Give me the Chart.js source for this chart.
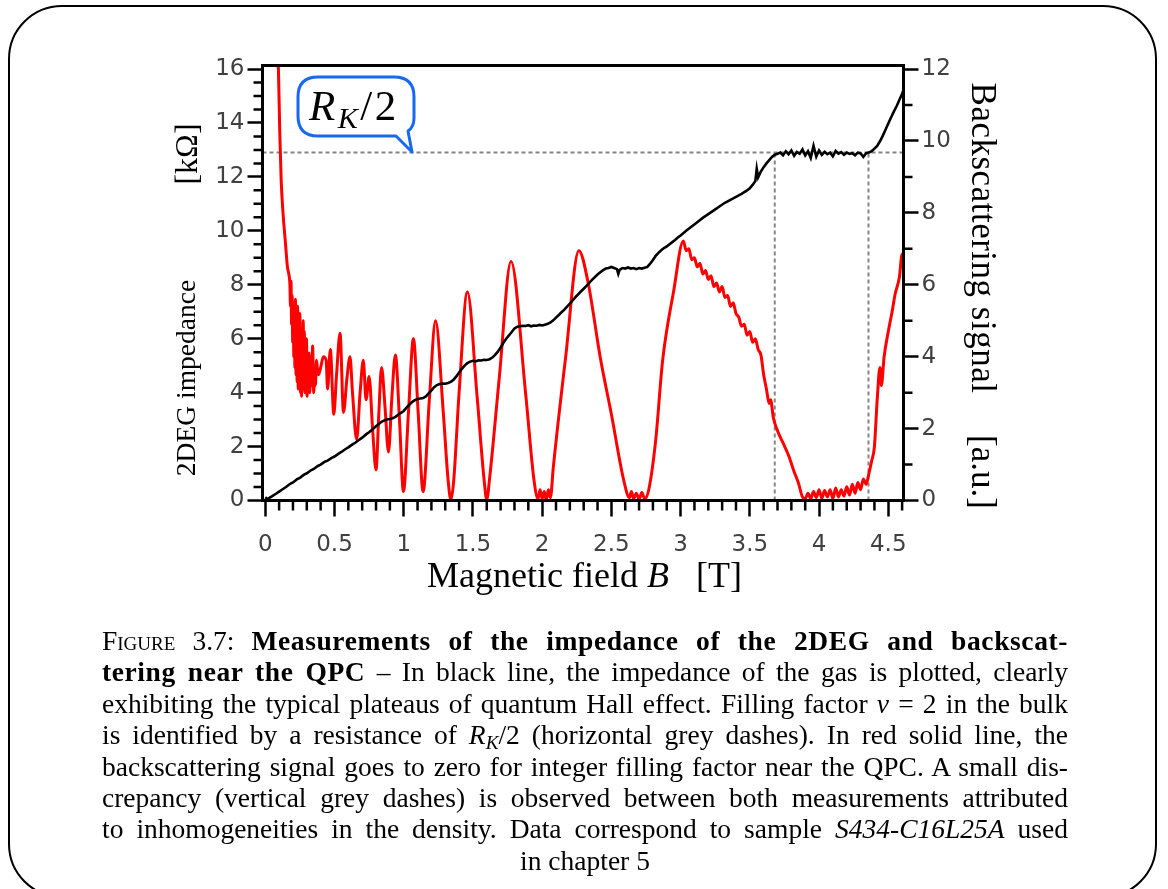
<!DOCTYPE html>
<html lang="en">
<head>
<meta charset="UTF-8" />
<title>2DEG impedance and backscattering</title>
<script src="https://cdn.jsdelivr.net/npm/chart.js"></script>
<style>
  html, body { margin: 0; padding: 0; background: #fff; }
  body { width: 1168px; height: 889px; position: relative; overflow: hidden; font-family: "Liberation Serif", serif; color: #000; }
  .frame { position: absolute; left: 8px; top: 5px; width: 1149px; height: 893px; border: 2px solid #000; border-radius: 54px; box-sizing: border-box; }
  #chart { position: absolute; left: 0; top: 0; }
  .axis-title { position: absolute; white-space: nowrap; line-height: 1; }
  .bubble { position: absolute; left: 0; top: 0; }
  .bubble-text { position: absolute; left: 309px; top: 84px; font-size: 43px; line-height: 43px; white-space: nowrap; letter-spacing: 2.5px; }
  .bubble-text sub, .caption sub { font-size: 0.7em; vertical-align: -0.25em; line-height: 0; }
  .caption { position: absolute; left: 102px; top: 625px; width: 966px; font-size: 27.5px; line-height: 31.4px; }
  .caption .ln { text-align: justify; text-align-last: justify; height: 31.4px; }
  .caption .ln.last { text-align: center; text-align-last: center; }
  .caption b { letter-spacing: 0.6px; }
  .sc { font-variant: small-caps; }
</style>
</head>
<body>
<div class="frame"></div>
<canvas id="chart" width="1168" height="889"></canvas>

<div class="axis-title" style="left:584.5px; top:557px; font-size:36px; transform:translateX(-50%);">Magnetic field <i>B</i><span style="display:inline-block;width:27px"></span>[T]</div>
<div class="axis-title" style="left:186px; top:378px; font-size:27.5px; transform:translate(-50%,-50%) rotate(-90deg);">2DEG impedance</div>
<div class="axis-title" style="left:186px; top:154px; font-size:32px; transform:translate(-50%,-50%) rotate(-90deg);">[kΩ]</div>
<div class="axis-title" style="left:983px; top:238px; font-size:35px; letter-spacing:0.5px; transform:translate(-50%,-50%) rotate(90deg);">Backscattering signal</div>
<div class="axis-title" style="left:983px; top:472px; font-size:35px; transform:translate(-50%,-50%) rotate(90deg);">[a.u.]</div>

<svg class="bubble" width="1168" height="200">
  <path d="M318 77 H394 Q414 77 414 97 V118 Q414 127 408 131 L412 152 L396 136 H318 Q298 136 298 116 V97 Q298 77 318 77 Z"
        fill="#fff" stroke="#1769f0" stroke-width="3" stroke-linejoin="round" />
</svg>
<div class="bubble-text"><i>R</i><sub><i>K</i></sub>/2</div>

<div class="caption">
  <div class="ln"><span class="sc">Figure</span> 3.7: <b>Measurements of the impedance of the 2DEG and backscat-</b></div>
  <div class="ln"><b>tering near the QPC</b> – In black line, the impedance of the gas is plotted, clearly</div>
  <div class="ln">exhibiting the typical plateaus of quantum Hall effect. Filling factor <i>ν</i> = 2 in the bulk</div>
  <div class="ln">is identified by a resistance of <i>R</i><sub><i>K</i></sub>/2 (horizontal grey dashes). In red solid line, the</div>
  <div class="ln">backscattering signal goes to zero for integer filling factor near the QPC. A small dis-</div>
  <div class="ln">crepancy (vertical grey dashes) is observed between both measurements attributed</div>
  <div class="ln">to inhomogeneities in the density. Data correspond to sample <i>S434-C16L25A</i> used</div>
  <div class="ln last">in chapter 5</div>
</div>

<script>
// tick values and labels
const xTicks = [0, 0.5, 1, 1.5, 2, 2.5, 3, 3.5, 4, 4.5];
const xTickLabels = ['0', '0.5', '1', '1.5', '2', '2.5', '3', '3.5', '4', '4.5'];
const leftTicks = [0, 2, 4, 6, 8, 10, 12, 14, 16];
const leftTickLabels = ['0', '2', '4', '6', '8', '10', '12', '14', '16'];
const rightTicks = [0, 2, 4, 6, 8, 10, 12];
const rightTickLabels = ['0', '2', '4', '6', '8', '10', '12'];

// R_K/2 level (kOhm) and the two field values of the vertical dashes (T)
const rkHalf = 12.9;
const plateauBulk = 3.68;
const plateauQpc = 4.357;

// black line: 2DEG impedance (kOhm) vs B (T)
const bImp = [0.00, 0.01, 0.02, 0.03, 0.05, 0.08, 0.10, 0.12, 0.15, 0.18, 0.20, 0.23, 0.25, 0.28, 0.30, 0.33, 0.35, 0.38, 0.40, 0.43,
  0.45, 0.48, 0.50, 0.53, 0.55, 0.58, 0.60, 0.63, 0.65, 0.68, 0.70, 0.73, 0.75, 0.78, 0.80, 0.82, 0.84, 0.86, 0.88, 0.90,
  0.92, 0.94, 0.96, 0.98, 1.00, 1.02, 1.04, 1.06, 1.08, 1.10, 1.12, 1.14, 1.16, 1.18, 1.20, 1.22, 1.24, 1.26, 1.28, 1.30,
  1.32, 1.34, 1.36, 1.38, 1.40, 1.42, 1.44, 1.46, 1.48, 1.50, 1.52, 1.54, 1.56, 1.58, 1.60, 1.62, 1.64, 1.66, 1.68, 1.70,
  1.72, 1.74, 1.76, 1.78, 1.80, 1.82, 1.84, 1.86, 1.88, 1.90, 1.92, 1.94, 1.96, 1.98, 2.00, 2.02, 2.04, 2.06, 2.08, 2.10,
  2.12, 2.14, 2.16, 2.20, 2.24, 2.28, 2.32, 2.36, 2.40, 2.42, 2.44, 2.46, 2.48, 2.50, 2.52, 2.54, 2.55, 2.56, 2.58, 2.60,
  2.62, 2.64, 2.66, 2.68, 2.70, 2.72, 2.74, 2.76, 2.78, 2.80, 2.82, 2.84, 2.86, 2.88, 2.90, 2.92, 2.94, 2.96, 2.98, 3.00,
  3.04, 3.08, 3.12, 3.16, 3.20, 3.24, 3.28, 3.32, 3.36, 3.40, 3.44, 3.48, 3.50, 3.52, 3.54, 3.55, 3.56, 3.58, 3.60, 3.62,
  3.64, 3.66, 3.68, 3.70, 3.72, 3.74, 3.76, 3.78, 3.80, 3.82, 3.84, 3.86, 3.88, 3.90, 3.92, 3.94, 3.96, 3.98, 4.00, 4.02,
  4.04, 4.06, 4.08, 4.10, 4.12, 4.14, 4.16, 4.18, 4.20, 4.22, 4.24, 4.26, 4.28, 4.30, 4.32, 4.34, 4.36, 4.38, 4.40, 4.42,
  4.44, 4.46, 4.48, 4.50, 4.52, 4.54, 4.56, 4.58, 4.60, 4.61];
const impedance = [0.12, 0.08, 0.05, 0.10, 0.16, 0.26, 0.33, 0.40, 0.50, 0.62, 0.67, 0.79, 0.84, 0.96, 1.01, 1.12, 1.17, 1.28, 1.33, 1.44,
  1.48, 1.58, 1.63, 1.74, 1.80, 1.91, 1.97, 2.08, 2.14, 2.26, 2.33, 2.46, 2.53, 2.66, 2.75, 2.84, 2.92, 2.97, 3.00, 3.02,
  3.05, 3.10, 3.18, 3.25, 3.32, 3.44, 3.55, 3.65, 3.72, 3.76, 3.78, 3.80, 3.86, 3.97, 4.08, 4.20, 4.28, 4.32, 4.34, 4.33,
  4.36, 4.40, 4.48, 4.60, 4.75, 4.88, 5.00, 5.10, 5.15, 5.18, 5.16, 5.20, 5.19, 5.22, 5.21, 5.24, 5.30, 5.40, 5.52, 5.67,
  5.85, 6.00, 6.12, 6.25, 6.38, 6.44, 6.46, 6.48, 6.47, 6.50, 6.46, 6.49, 6.48, 6.51, 6.49, 6.52, 6.55, 6.60, 6.68, 6.78,
  6.88, 6.98, 7.08, 7.30, 7.54, 7.75, 7.96, 8.18, 8.38, 8.46, 8.54, 8.60, 8.62, 8.66, 8.62, 8.58, 8.40, 8.55, 8.62, 8.60,
  8.64, 8.60, 8.62, 8.58, 8.62, 8.60, 8.63, 8.66, 8.78, 8.92, 9.07, 9.18, 9.28, 9.36, 9.42, 9.50, 9.58, 9.66, 9.75, 9.83,
  10.00, 10.16, 10.32, 10.48, 10.62, 10.76, 10.90, 11.04, 11.15, 11.26, 11.37, 11.50, 11.58, 11.70, 11.85, 12.30, 11.98, 12.20, 12.36, 12.50,
  12.62, 12.74, 12.82, 12.86, 12.90, 12.80, 12.95, 12.84, 12.98, 12.78, 12.92, 12.86, 13.02, 12.80, 12.95, 12.70, 13.15, 12.75, 12.98, 12.82,
  12.93, 12.84, 12.90, 12.76, 12.96, 12.86, 12.92, 12.82, 12.90, 12.85, 12.88, 12.80, 12.90, 12.87, 12.74, 12.88, 12.90, 12.95, 13.05, 13.15,
  13.32, 13.52, 13.75, 13.98, 14.20, 14.42, 14.62, 14.85, 15.08, 15.22];

// red line: backscattering signal (a.u.) vs B (T)
const bBack = [0.080, 0.095, 0.105, 0.115, 0.130, 0.145, 0.160, 0.170, 0.178, 0.182, 0.186, 0.190, 0.194, 0.198, 0.202, 0.206, 0.210, 0.214, 0.218, 0.222,
  0.226, 0.230, 0.234, 0.238, 0.242, 0.246, 0.250, 0.254, 0.258, 0.262, 0.266, 0.270, 0.274, 0.278, 0.282, 0.286, 0.290, 0.294, 0.298, 0.302,
  0.306, 0.310, 0.316, 0.322, 0.330, 0.336, 0.342, 0.350, 0.356, 0.362, 0.370, 0.378, 0.385, 0.400, 0.420, 0.440, 0.450, 0.470, 0.495, 0.515,
  0.540, 0.565, 0.590, 0.612, 0.630, 0.660, 0.685, 0.708, 0.728, 0.750, 0.775, 0.800, 0.820, 0.840, 0.865, 0.890, 0.915, 0.940, 0.970, 0.998,
  1.035, 1.070, 1.105, 1.140, 1.185, 1.230, 1.285, 1.320, 1.340, 1.360, 1.400, 1.460, 1.530, 1.580, 1.600, 1.620, 1.690, 1.775, 1.880, 1.940,
  1.970, 1.985, 2.000, 2.015, 2.030, 2.045, 2.060, 2.080, 2.170, 2.265, 2.330, 2.420, 2.500, 2.590, 2.630, 2.645, 2.660, 2.680, 2.700, 2.720,
  2.740, 2.770, 2.820, 2.870, 2.950, 3.020, 3.040, 3.060, 3.080, 3.100, 3.120, 3.140, 3.160, 3.180, 3.200, 3.220, 3.240, 3.260, 3.280, 3.300,
  3.320, 3.340, 3.360, 3.380, 3.400, 3.420, 3.440, 3.460, 3.480, 3.500, 3.520, 3.540, 3.560, 3.580, 3.600, 3.620, 3.640, 3.650, 3.670, 3.700,
  3.740, 3.780, 3.820, 3.850, 3.880, 3.900, 3.920, 3.940, 3.960, 3.980, 4.000, 4.020, 4.040, 4.060, 4.080, 4.100, 4.120, 4.140, 4.160, 4.180,
  4.200, 4.220, 4.240, 4.260, 4.280, 4.300, 4.320, 4.340, 4.360, 4.380, 4.400, 4.420, 4.440, 4.450, 4.470, 4.500, 4.530, 4.550, 4.580, 4.600,
  4.610];
const backscatter = [13.0, 12.0, 10.2, 8.9, 7.9, 7.2, 6.5, 6.3, 6.0, 5.4, 6.1, 4.9, 5.7, 4.4, 5.5, 4.0, 5.3, 3.7, 5.6, 3.5,
  5.1, 3.3, 5.4, 3.1, 4.9, 3.2, 5.2, 3.0, 4.8, 2.9, 4.6, 3.1, 5.0, 3.3, 4.7, 3.0, 4.3, 3.2, 4.5, 2.9,
  4.0, 3.1, 4.1, 3.0, 4.0, 3.2, 4.3, 3.0, 3.6, 3.2, 3.9, 3.6, 3.5, 3.7, 4.0, 3.9, 3.1, 4.2, 2.4, 3.5,
  4.65, 2.45, 3.4, 4.0, 3.0, 1.7, 3.0, 3.9, 2.8, 3.45, 2.0, 0.85, 2.4, 3.7, 2.6, 1.35, 2.9, 4.05, 2.2, 0.25,
  2.5, 4.5, 2.4, 0.25, 2.8, 5.0, 2.5, 0.6, 0.03, 0.5, 3.0, 5.8, 2.9, 0.6, 0.02, 0.6, 3.4, 6.65, 3.0, 0.6,
  0.05, 0.3, 0.05, 0.25, 0.02, 0.3, 0.08, 0.9, 4.0, 6.95, 6.1, 3.97, 2.4, 0.55, 0.08, 0.25, 0.05, 0.2, 0.04, 0.22,
  0.05, 0.3, 1.67, 3.89, 5.83, 7.22, 6.95, 7.0, 6.7, 6.75, 6.5, 6.6, 6.3, 6.4, 6.15, 6.25, 5.95, 6.05, 5.8, 5.95,
  5.65, 5.7, 5.4, 5.5, 5.2, 5.1, 4.85, 4.9, 4.6, 4.7, 4.4, 4.5, 4.2, 4.05, 3.5, 3.1, 2.7, 2.8, 2.3, 1.94,
  1.6, 1.25, 0.8, 0.5, 0.1, 0.05, 0.2, 0.05, 0.25, 0.08, 0.3, 0.06, 0.28, 0.1, 0.3, 0.05, 0.35, 0.1, 0.3, 0.12,
  0.38, 0.15, 0.45, 0.2, 0.5, 0.3, 0.6, 0.45, 0.75, 1.1, 1.5, 2.8, 3.7, 3.2, 4.0, 4.7, 5.3, 5.75, 6.2, 6.85,
  6.7];

const xMin = -0.02, xMax = 4.61;

// minor tick positions
const xMinor = [];
for (let i = 1; i <= 46; i++) if (i % 5) xMinor.push(i / 10);
const leftMinor = [];
for (let i = 1; i <= 32; i++) if (i % 4) leftMinor.push(i / 2);
const rightMinor = [1, 3, 5, 7, 9, 11];

const impData = bImp.map((b, i) => ({ x: b, y: impedance[i] }));
const backData = bBack.map((b, i) => ({ x: b, y: backscatter[i] }));

const frameAndMinor = {
  id: 'frameAndMinor',
  afterDatasetsDraw(chart) {
    const { ctx, chartArea: a, scales } = chart;
    ctx.save();
    ctx.strokeStyle = '#000';
    ctx.lineWidth = 2.5;
    ctx.beginPath();
    xMinor.forEach(v => {
      const p = scales.x.getPixelForValue(v);
      ctx.moveTo(p, a.bottom); ctx.lineTo(p, a.bottom + 10);
    });
    leftMinor.forEach(v => {
      const p = scales.y.getPixelForValue(v);
      ctx.moveTo(a.left, p); ctx.lineTo(a.left - 9, p);
    });
    rightMinor.forEach(v => {
      const p = scales.y2.getPixelForValue(v);
      ctx.moveTo(a.right, p); ctx.lineTo(a.right + 9, p);
    });
    ctx.stroke();
    ctx.lineWidth = 3;
    ctx.strokeRect(a.left, a.top, a.right - a.left, a.bottom - a.top);
    ctx.restore();
  }
};

const tickFont = { family: 'DejaVu Sans', size: 23 };
const majorGrid = { display: true, drawOnChartArea: false, drawTicks: true, tickLength: 15, tickWidth: 2.5, tickColor: '#000' };

new Chart(document.getElementById('chart'), {
  type: 'line',
  data: {
    datasets: [
      { label: '2DEG impedance', data: impData, yAxisID: 'y', borderColor: '#000', borderWidth: 2.6, pointRadius: 0, tension: 0 },
      { label: 'Backscattering signal', data: backData, yAxisID: 'y2', borderColor: '#ff0000', borderWidth: 3, pointRadius: 0, cubicInterpolationMode: 'monotone' },
      { label: 'R_K/2', data: [{ x: xMin, y: rkHalf }, { x: xMax, y: rkHalf }], yAxisID: 'y', borderColor: '#858585', borderWidth: 2, borderDash: [4, 3], pointRadius: 0 },
      { label: 'bulk', data: [{ x: plateauBulk, y: 0 }, { x: plateauBulk, y: rkHalf }], yAxisID: 'y', borderColor: '#858585', borderWidth: 2, borderDash: [4, 3], pointRadius: 0 },
      { label: 'qpc', data: [{ x: plateauQpc, y: 0 }, { x: plateauQpc, y: rkHalf }], yAxisID: 'y', borderColor: '#858585', borderWidth: 2, borderDash: [4, 3], pointRadius: 0 }
    ]
  },
  options: {
    responsive: false,
    animation: false,
    devicePixelRatio: 1,
    layout: { padding: { top: 65.5, left: 0, right: 0, bottom: 0 } },
    plugins: { legend: { display: false }, tooltip: { enabled: false } },
    scales: {
      x: {
        type: 'linear', min: xMin, max: xMax,
        afterFit(s) { s.height = 388.5; },
        afterBuildTicks(s) { s.ticks = xTicks.map(v => ({ value: v })); },
        ticks: { callback: (v, i) => xTickLabels[i], font: tickFont, color: '#404040', padding: 15, maxRotation: 0, autoSkip: false },
        grid: { ...majorGrid, tickLength: 16 },
        border: { display: false }
      },
      y: {
        position: 'left', min: 0, max: 16.13,
        afterFit(s) { s.width = 262.5; },
        afterBuildTicks(s) { s.ticks = leftTicks.map(v => ({ value: v })); },
        ticks: { callback: (v, i) => leftTickLabels[i], font: tickFont, color: '#404040', padding: 3, autoSkip: false },
        grid: majorGrid,
        border: { display: false }
      },
      y2: {
        position: 'right', min: 0, max: 12.1,
        afterFit(s) { s.width = 264.5; },
        afterBuildTicks(s) { s.ticks = rightTicks.map(v => ({ value: v })); },
        ticks: { callback: (v, i) => rightTickLabels[i], font: tickFont, color: '#404040', padding: 3, autoSkip: false },
        grid: majorGrid,
        border: { display: false }
      }
    }
  },
  plugins: [frameAndMinor]
});
</script>
</body>
</html>
